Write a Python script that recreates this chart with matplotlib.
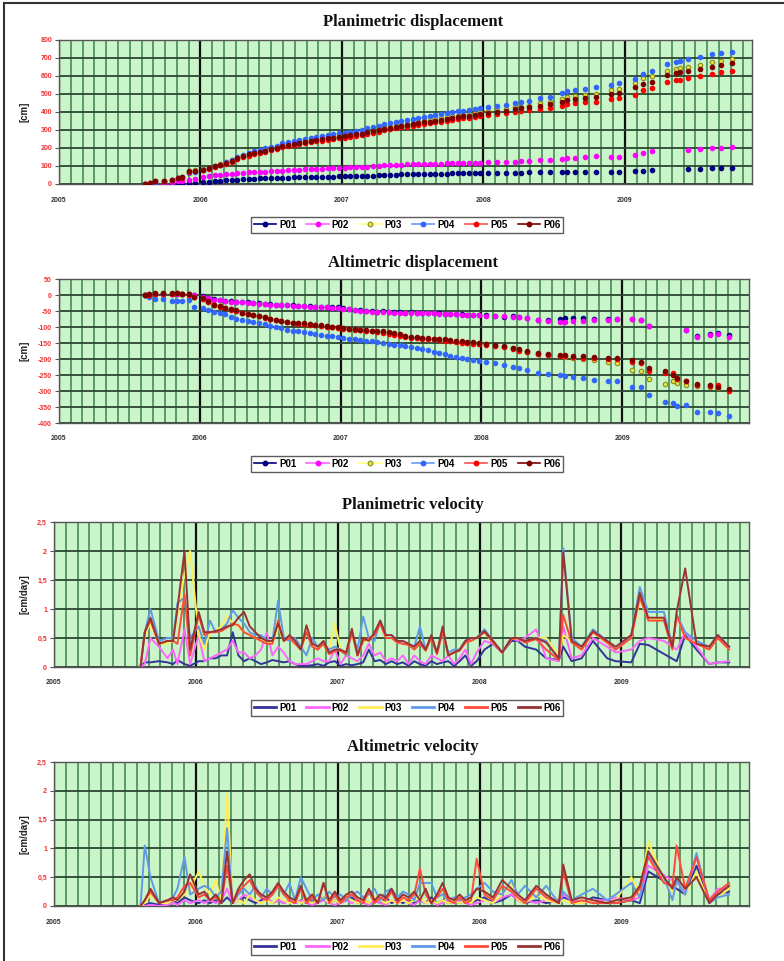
import numpy as np
import matplotlib
matplotlib.use('Agg')
import matplotlib.pyplot as plt
from matplotlib.lines import Line2D

nan = float('nan')

# ---------------- data ----------------
dates = [2005.61, 2005.64, 2005.68, 2005.74, 2005.80, 2005.84, 2005.87, 2005.92, 2005.96, 2006.02,
         2006.06, 2006.10, 2006.14, 2006.18, 2006.22, 2006.26, 2006.30, 2006.34, 2006.38, 2006.42,
         2006.46, 2006.50, 2006.54, 2006.58, 2006.62, 2006.66, 2006.70, 2006.74, 2006.78, 2006.82,
         2006.86, 2006.90, 2006.94, 2006.98, 2007.02, 2007.06, 2007.10, 2007.14, 2007.18, 2007.22,
         2007.26, 2007.30, 2007.34, 2007.38, 2007.42, 2007.46, 2007.50, 2007.54, 2007.58, 2007.62,
         2007.66, 2007.70, 2007.74, 2007.78, 2007.82, 2007.86, 2007.90, 2007.94, 2007.98, 2008.035,
         2008.095, 2008.16, 2008.225, 2008.27, 2008.32, 2008.40, 2008.47, 2008.56, 2008.59, 2008.65,
         2008.72, 2008.80, 2008.90, 2008.96, 2009.07, 2009.13, 2009.19, 2009.30, 2009.36, 2009.39,
         2009.45, 2009.53, 2009.62, 2009.68, 2009.76]

series_names = ['P01', 'P02', 'P03', 'P04', 'P05', 'P06']

# Planimetric displacement [cm]
pd_P01 = [0, 1, 2, 2, 3, 4, 4, 5, 6, 9,
          11, 14, 17, 20, 22, 24, 26, 28, 29, 31,
          32, 33, 34, 35, 36, 37, 37, 38, 39, 39,
          40, 40, 41, 42, 42, 43, 44, 45, 46, 47,
          48, 49, 50, 52, 53, 54, 55, 55, 56, 57,
          57, 58, 58, 59, 59, 60, 60, 60, 61, 61,
          62, 62, 63, 63, 64, 64, 65, 65, 66, 66,
          66, 67, 65, 66, 72, 74, 76, nan, nan, nan,
          83, 85, 87, 88, 89]
pd_P02 = [0, 2, 5, 6, 10, 14, 16, 24, 28, 40,
          45, 50, 52, 55, 57, 60, 62, 64, 65, 67,
          69, 70, 73, 75, 77, 79, 80, 81, 83, 84,
          86, 87, 88, 89, 90, 92, 93, 95, 97, 99,
          101, 103, 105, 107, 108, 109, 110, 111, 111, 112,
          113, 113, 114, 115, 116, 116, 117, 118, 119, 120,
          121, 122, 124, 126, 130, 134, 136, 138, 145, 147,
          150, 153, 150, 151, 163, 172, 181, nan, nan, nan,
          190, 194, 198, 200, 203]
pd_P03 = [0, 5, 15, 17, 24, 34, 38, 74, 76, 82,
          90, 100, 110, 121, 131, 145, 156, 167, 176, 184,
          190, 197, 204, 215, 221, 227, 233, 238, 244, 249,
          253, 258, 262, 267, 271, 275, 281, 286, 295, 300,
          306, 314, 319, 325, 330, 335, 340, 346, 351, 356,
          361, 366, 371, 376, 380, 384, 389, 394, 399, 406,
          411, 417, 425, 430, 436, 448, 456, 472, 482, 487,
          494, 502, 520, 530, 560, 590, 600, 630, 640, 645,
          652, 662, 676, 684, 695]
pd_P04 = [0, 5, 12, 18, 25, 33, 40, 62, 68, 78,
          88, 98, 108, 120, 132, 148, 160, 172, 182, 190,
          198, 205, 212, 225, 232, 238, 245, 250, 256, 262,
          266, 272, 276, 281, 285, 290, 296, 302, 312, 318,
          324, 332, 338, 344, 350, 355, 360, 366, 372, 378,
          383, 388, 394, 400, 404, 408, 413, 418, 422, 428,
          434, 440, 448, 454, 460, 476, 486, 505, 516, 520,
          530, 540, 552, 562, 585, 612, 630, 665, 680, 684,
          693, 704, 720, 730, 736]
pd_P05 = [0, 4, 15, 16, 22, 33, 35, 68, 70, 76,
          84, 94, 103, 113, 123, 137, 148, 158, 166, 174,
          180, 187, 193, 203, 209, 215, 221, 226, 232, 237,
          241, 246, 250, 254, 258, 262, 267, 272, 280, 285,
          291, 298, 303, 309, 314, 318, 323, 328, 333, 338,
          342, 347, 352, 357, 361, 365, 369, 373, 377, 384,
          388, 393, 400, 405, 410, 418, 424, 436, 445, 449,
          453, 458, 470, 477, 495, 520, 535, 565, 575, 578,
          588, 598, 612, 620, 630]
pd_P06 = [0, 5, 16, 18, 24, 35, 38, 72, 74, 80,
          88, 98, 108, 118, 128, 142, 153, 164, 172, 180,
          186, 193, 200, 210, 216, 222, 228, 233, 239, 244,
          248, 253, 257, 262, 266, 270, 275, 280, 288, 293,
          299, 306, 311, 317, 322, 327, 332, 337, 342, 347,
          352, 357, 362, 367, 371, 375, 380, 385, 390, 397,
          402, 408, 415, 420, 426, 436, 444, 458, 468, 472,
          478, 485, 498, 505, 538, 555, 569, 606, 615, 620,
          630, 640, 652, 660, 671]

# Altimetric displacement [cm]
ad_P01 = [0, 1, 3, 4, 3, 4, 3, 2, 0, -4,
          -9, -14, -16, -18, -20, -21, -22, -23, -24, -26,
          -27, -29, -30, -30, -31, -32, -33, -34, -35, -36,
          -37, -38, -39, -36, -42, -44, -46, -48, -50, -51,
          -52, -51, -53, -54, -54, -55, -54, -55, -55, -56,
          -56, -57, -58, -58, -59, -60, -61, -62, -63, -64,
          -65, -70, -67, -69, -71, -77, -79, -75, -73, -72,
          -72, -76, -76, -75, -75, -77, -96, nan, nan, nan,
          -108, -128, -123, -120, -125]
ad_P02 = [0, 1, 3, 4, 3, 4, 3, 2, 0, -5,
          -10, -15, -17, -19, -21, -22, -23, -24, -25, -27,
          -28, -30, -31, -31, -32, -33, -34, -35, -36, -37,
          -38, -39, -40, -41, -43, -45, -47, -49, -51, -52,
          -53, -52, -54, -55, -55, -56, -55, -56, -56, -57,
          -57, -58, -59, -59, -60, -61, -62, -63, -64, -65,
          -66, -67, -68, -70, -72, -78, -80, -83, -83, -82,
          -80, -78, -77, -76, -76, -78, -97, nan, nan, nan,
          -109, -132, -125, -122, -130]
ad_P03 = [0, 2, 4, 5, 4, 6, 3, 1, -5, -11,
          -21, -30, -35, -41, -45, -49, -55, -59, -62, -66,
          -70, -74, -78, -82, -85, -87, -89, -90, -92, -94,
          -96, -98, -100, -102, -104, -106, -107, -109, -111, -113,
          -115, -116, -119, -122, -125, -128, -131, -133, -135, -137,
          -138, -139, -141, -143, -145, -147, -149, -150, -152, -154,
          -158, -162, -167, -172, -177, -184, -187, -190, -193, -196,
          -199, -204, -210, -213, -234, -236, -263, -278, -270, -275,
          -280, -285, -288, -290, -298]
ad_P04 = [0, -5, -13, -14, -18, -20, -18, -15, -36, -41,
          -46, -52, -56, -60, -70, -76, -78, -80, -83, -88,
          -92, -96, -100, -104, -108, -111, -114, -117, -119, -122,
          -125, -127, -129, -130, -133, -136, -138, -141, -143, -145,
          -147, -150, -153, -155, -157, -159, -161, -165, -169, -173,
          -177, -181, -185, -190, -193, -196, -199, -202, -205, -210,
          -214, -220, -224, -228, -234, -244, -248, -251, -253, -255,
          -258, -265, -268, -270, -289, -286, -312, -335, -337, -348,
          -345, -367, -367, -368, -379]
ad_P05 = [0, 1, 3, 4, 3, 5, 2, 0, -6, -12,
          -22, -30, -36, -42, -46, -50, -56, -60, -63, -67,
          -71, -75, -79, -82, -85, -88, -90, -91, -93, -95,
          -97, -99, -101, -103, -105, -107, -108, -110, -112, -114,
          -116, -118, -121, -124, -127, -130, -133, -135, -137, -138,
          -139, -141, -143, -145, -147, -149, -150, -152, -154, -156,
          -160, -164, -169, -174, -178, -185, -188, -190, -192, -194,
          -196, -198, -200, -201, -208, -214, -236, -244, -244, -262,
          -268, -282, -284, -282, -300]
ad_P06 = [0, 2, 5, 6, 5, 7, 4, 2, -5, -10,
          -20, -31, -35, -40, -45, -48, -55, -58, -62, -65,
          -70, -74, -77, -81, -84, -86, -88, -89, -90, -93,
          -95, -97, -99, -101, -103, -105, -106, -108, -110, -112,
          -113, -114, -117, -120, -123, -127, -130, -132, -134, -135,
          -136, -137, -139, -141, -143, -145, -147, -148, -150, -152,
          -156, -160, -165, -170, -175, -182, -184, -186, -188, -190,
          -192, -194, -196, -197, -202, -208, -228, -239, -249, -260,
          -270, -277, -280, -286, -294]

# Planimetric velocity [cm/day]
pv_P01 = [0, 0.08, 0.08, 0.1, 0.08, 0.05, 0.12, 0.05, 0.02, 0.1,
          0.1, 0.15, 0.15, 0.2, 0.2, 0.6, 0.2, 0.1, 0.15, 0.1,
          0.05, 0.08, 0.12, 0.1, 0.08, 0.1, 0.05, 0.02, 0.02, 0.03,
          0.05, 0.02, 0.08, 0.1, 0.02, 0.05, 0.03, 0.05, 0.08, 0.3,
          0.1, 0.12, 0.05, 0.1, 0.05, 0.08, 0.02, 0.1, 0.05, 0.02,
          0.1, 0.05, 0.08, 0.1, 0.02, 0.1, 0.2, 0.02, 0.1, 0.3,
          0.4, 0.25, 0.45, 0.45, 0.35, 0.3, 0.15, 0.12, 0.35, 0.1,
          0.15, 0.45, 0.15, 0.1, 0.08, 0.4, 0.38, nan, nan, 0.1,
          0.55, 0.3, 0.05, 0.08, 0.08]
pv_P02 = [0, 0.05, 0.5, 0.35, 0.15, 0.3, 0.05, 0.65, 0.05, 0.55,
          0.1, 0.15, 0.2, 0.25, 0.3, 0.45, 0.25, 0.25, 0.15, 0.2,
          0.3, 0.6, 0.2, 0.35, 0.25, 0.1, 0.05, 0.05, 0.05, 0.1,
          0.15, 0.1, 0.1, 0.3, 0.05, 0.2, 0.15, 0.1, 0.2, 0.4,
          0.2, 0.25, 0.1, 0.15, 0.1, 0.2, 0.05, 0.2, 0.1, 0.05,
          0.2, 0.15, 0.1, 0.2, 0.05, 0.15, 0.3, 0.05, 0.25, 0.45,
          0.4, 0.25, 0.5, 0.45, 0.5, 0.65, 0.15, 0.1, 0.7, 0.15,
          0.2, 0.5, 0.35, 0.25, 0.3, 0.45, 0.5, 0.45, nan, 0.3,
          0.6, 0.35, 0.05, 0.08, 0.1]
pv_P03 = [0, 0.55, 0.75, 0.4, 0.4, 0.45, 0.9, 1.6, 2.0, 0.55,
          0.3, 0.6, 0.62, 0.7, 0.88, 0.75, 0.7, 0.6, 0.55, 0.5,
          0.45, 0.45, 0.4, 0.7, 0.45, 0.5, 0.4, 0.3, 0.6, 0.38,
          0.3, 0.4, 0.3, 0.75, 0.3, 0.25, 0.55, 0.2, 0.45, 0.45,
          0.55, 0.75, 0.5, 0.5, 0.42, 0.4, 0.38, 0.32, 0.42, 0.3,
          0.5, 0.25, 0.6, 0.2, 0.25, 0.28, 0.42, 0.45, 0.5, 0.6,
          0.42, 0.25, 0.48, 0.5, 0.45, 0.5, 0.5, 0.2, 0.55, 0.45,
          0.3, 0.6, 0.42, 0.3, 0.5, 1.15, 0.82, 0.82, 0.3, 0.9,
          0.5, 0.4, 0.3, 0.5, 0.3]
pv_P04 = [0, 0.6, 1.0, 0.45, 0.5, 0.5, 1.1, 1.2, 0.5, 0.7,
          0.4, 0.8, 0.6, 0.65, 0.75, 0.98, 0.85, 0.75, 0.6, 0.55,
          0.55, 0.45, 0.45, 1.15, 0.5, 0.45, 0.5, 0.35, 0.2, 0.5,
          0.35, 0.4, 0.3, 0.35, 0.3, 0.2, 0.6, 0.3, 0.87, 0.5,
          0.45, 0.8, 0.55, 0.55, 0.45, 0.4, 0.4, 0.35, 0.7, 0.3,
          0.5, 0.25, 0.6, 0.25, 0.3, 0.3, 0.45, 0.5, 0.5, 0.65,
          0.45, 0.25, 0.5, 0.5, 0.45, 0.5, 0.45, 0.12, 2.05, 0.5,
          0.35, 0.65, 0.45, 0.3, 0.55, 1.38, 0.95, 0.95, 0.35, 0.9,
          0.6, 0.45, 0.35, 0.55, 0.35]
pv_P05 = [0, 0.6, 0.8, 0.4, 0.45, 0.45, 0.4, 1.25, 0.2, 0.9,
          0.55, 0.6, 0.6, 0.62, 0.68, 0.75, 0.72, 0.6, 0.55, 0.5,
          0.45, 0.4, 0.4, 0.8, 0.45, 0.5, 0.4, 0.3, 0.6, 0.35,
          0.3, 0.4, 0.22, 0.28, 0.28, 0.22, 0.6, 0.2, 0.45, 0.5,
          0.55, 0.75, 0.5, 0.5, 0.42, 0.4, 0.38, 0.3, 0.4, 0.28,
          0.5, 0.22, 0.6, 0.2, 0.25, 0.28, 0.42, 0.45, 0.5, 0.6,
          0.42, 0.25, 0.48, 0.5, 0.42, 0.48, 0.3, 0.12, 0.9, 0.42,
          0.3, 0.6, 0.42, 0.3, 0.5, 1.2, 0.8, 0.8, 0.3, 0.9,
          0.5, 0.4, 0.3, 0.5, 0.3]
pv_P06 = [0, 0.6, 0.85, 0.4, 0.45, 0.45, 1.0, 2.0, 0.3, 0.95,
          0.6, 0.6, 0.62, 0.65, 0.7, 0.72, 0.85, 0.95, 0.7, 0.6,
          0.5, 0.45, 0.45, 0.75, 0.45, 0.55, 0.45, 0.3, 0.72, 0.4,
          0.35, 0.45, 0.25, 0.3, 0.3, 0.25, 0.66, 0.2, 0.5, 0.45,
          0.6, 0.8, 0.55, 0.55, 0.45, 0.45, 0.4, 0.35, 0.45, 0.3,
          0.55, 0.25, 0.7, 0.2, 0.25, 0.3, 0.45, 0.5, 0.5, 0.62,
          0.45, 0.25, 0.5, 0.5, 0.45, 0.5, 0.42, 0.15, 1.98, 0.45,
          0.35, 0.62, 0.45, 0.35, 0.55, 1.28, 0.85, 0.85, 0.35, 0.95,
          1.7, 0.4, 0.35, 0.55, 0.35]

# Altimetric velocity [cm/day]
av_P01 = [0, 0.02, 0.05, 0.02, 0.05, 0.1, 0.05, 0.15, 0.1, 0.05,
          0.1, 0.05, 0.1, 0.05, 0.15, 0.05, 0.1, 0.15, 0.1, 0.05,
          0.1, 0.15, 0.05, 0.1, 0.05, 0.1, 0.05, 0.1, 0.05, 0.1,
          0.05, 0.15, 0.05, 0.1, 0.05, 0.1, 0.15, 0.05, 0.1, 0.05,
          0.1, 0.05, 0.15, 0.05, 0.1, 0.05, 0.1, 0.05, 0.1, 0.05,
          0.15, 0.05, 0.1, 0.05, 0.1, 0.05, 0.1, 0.05, 0.1, 0.15,
          0.05, 0.1, 0.2, 0.1, 0.05, 0.1, 0.05, 0.1, 0.15, 0.1,
          0.05, 0.15, 0.1, 0.05, 0.1, 0.05, 0.6, nan, nan, 0.3,
          0.2, 0.7, 0.05, 0.2, 0.25]
av_P02 = [0, 0.0, 0.02, 0.0, 0.02, 0.05, 0.02, 0.1, 0.05, 0.1,
          0.05, 0.1, 0.05, 0.1, 0.3, 0.05, 0.1, 0.2, 0.15, 0.1,
          0.05, 0.15, 0.05, 0.1, 0.05, 0.1, 0.05, 0.1, 0.05, 0.02,
          0.05, 0.1, 0.05, 0.02, 0.05, 0.1, 0.05, 0.1, 0.05, 0.02,
          0.1, 0.05, 0.02, 0.1, 0.05, 0.1, 0.05, 0.02, 0.1, 0.05,
          0.1, 0.02, 0.05, 0.1, 0.05, 0.1, 0.05, 0.02, 0.05, 0.1,
          0.05, 0.15, 0.2, 0.1, 0.1, 0.05, 0.1, 0.05, 0.2, 0.1,
          0.05, 0.1, 0.1, 0.15, 0.1, 0.15, 0.7, nan, nan, 0.4,
          0.25, 0.85, 0.1, 0.3, 0.3]
av_P03 = [0, 0.05, 0.2, 0.05, 0.05, 0.1, 0.1, 0.2, 0.3, 0.6,
          0.35, 0.2, 0.45, 0.1, 1.95, 0.05, 0.1, 0.05, 0.2, 0.1,
          0.05, 0.1, 0.05, 0.15, 0.1, 0.05, 0.1, 0.05, 0.1, 0.05,
          0.1, 0.15, 0.05, 0.1, 0.05, 0.15, 0.1, 0.05, 0.1, 0.05,
          0.15, 0.1, 0.05, 0.1, 0.05, 0.1, 0.05, 0.1, 0.15, 0.05,
          0.1, 0.05, 0.1, 0.05, 0.1, 0.05, 0.1, 0.05, 0.15, 0.1,
          0.05, 0.2, 0.4, 0.1, 0.05, 0.2, 0.1, 0.05, 0.1, 0.05,
          0.05, 0.1, 0.05, 0.1, 0.5, 0.2, 1.12, 0.45, 0.25, 0.45,
          0.2, 0.6, 0.05, 0.15, 0.3]
av_P04 = [0, 1.05, 0.5, 0.05, 0.1, 0.15, 0.3, 0.85, 0.2, 0.3,
          0.35, 0.3, 0.15, 0.25, 1.35, 0.05, 0.2, 0.3, 0.2, 0.35,
          0.15, 0.3, 0.2, 0.35, 0.2, 0.4, 0.1, 0.5, 0.3, 0.1,
          0.2, 0.1, 0.25, 0.15, 0.2, 0.1, 0.2, 0.25, 0.15, 0.2,
          0.3, 0.1, 0.25, 0.3, 0.15, 0.25, 0.2, 0.1, 0.4, 0.4,
          0.4, 0.15, 0.2, 0.1, 0.15, 0.1, 0.15, 0.2, 0.3, 0.4,
          0.25, 0.2, 0.45, 0.2, 0.35, 0.15, 0.35, 0.05, 0.25, 0.1,
          0.2, 0.3, 0.1, 0.2, 0.4, 0.15, 0.9, 0.5, 0.1, 0.45,
          0.2, 0.92, 0.05, 0.15, 0.2]
av_P05 = [0, 0.1, 0.25, 0.05, 0.1, 0.1, 0.15, 0.35, 0.4, 0.15,
          0.2, 0.1, 0.15, 0.05, 0.7, 0.05, 0.25, 0.35, 0.45, 0.25,
          0.15, 0.1, 0.2, 0.35, 0.2, 0.1, 0.05, 0.3, 0.05, 0.15,
          0.05, 0.4, 0.05, 0.2, 0.05, 0.15, 0.2, 0.1, 0.05, 0.25,
          0.05, 0.15, 0.1, 0.25, 0.05, 0.15, 0.1, 0.2, 0.65, 0.2,
          0.05, 0.15, 0.3, 0.1, 0.05, 0.15, 0.05, 0.1, 0.82, 0.2,
          0.1, 0.35, 0.25, 0.15, 0.05, 0.3, 0.15, 0.05, 0.6, 0.05,
          0.1, 0.05, 0.05, 0.05, 0.1, 0.3, 0.85, 0.4, 0.35, 1.05,
          0.3, 0.85, 0.1, 0.25, 0.4]
av_P06 = [0, 0.1, 0.3, 0.05, 0.1, 0.15, 0.1, 0.25, 0.55, 0.2,
          0.25, 0.1, 0.2, 0.05, 0.95, 0.05, 0.3, 0.45, 0.55, 0.3,
          0.2, 0.15, 0.25, 0.4, 0.25, 0.15, 0.1, 0.35, 0.1, 0.2,
          0.05, 0.4, 0.1, 0.25, 0.1, 0.2, 0.25, 0.15, 0.1, 0.3,
          0.1, 0.2, 0.15, 0.3, 0.1, 0.2, 0.15, 0.25, 0.1, 0.3,
          0.05, 0.2, 0.4, 0.15, 0.1, 0.2, 0.1, 0.15, 0.3, 0.25,
          0.15, 0.45, 0.3, 0.2, 0.1, 0.35, 0.2, 0.05, 0.72, 0.1,
          0.15, 0.1, 0.05, 0.1, 0.15, 0.35, 0.95, 0.5, 0.3, 0.5,
          0.3, 0.5, 0.05, 0.2, 0.35]

titles = ['Planimetric displacement', 'Altimetric displacement',
          'Planimetric velocity', 'Altimetric velocity']
ylabels = ['[cm]', '[cm]', '[cm/day]', '[cm/day]']
year_ticks = [2005, 2006, 2007, 2008, 2009]
year_labels = ['2005', '2006', '2007', '2008', '2009']
pd_yticks = [0, 100, 200, 300, 400, 500, 600, 700, 800]
ad_yticks = [-400, -350, -300, -250, -200, -150, -100, -50, 0, 50]
vel_yticks = [0, 0.5, 1, 1.5, 2, 2.5]
vel_yticklabels = ['0', '0,5', '1', '1,5', '2', '2,5']

# ---------------- styling ----------------
W, H = 784, 961
fig = plt.figure(figsize=(W / 100, H / 100), dpi=100)
fig.patch.set_facecolor('white')

def rect(l, t, r, b):
    return [l / W, 1 - b / H, (r - l) / W, (b - t) / H]

ax_rects = [rect(59, 40, 752, 184), rect(59, 279, 749, 423),
            rect(54, 522, 749, 667), rect(54, 762, 749, 906)]
title_y = [22, 263, 505, 747]
legend_top = [212, 451, 695, 934]

disp_colors = ['#000080', '#ff00ff', '#c8c820', '#3366ff', '#ff0000', '#800000']
disp_line_colors = ['#000080', '#ff66ff', '#ffff88', '#6699ff', '#ff5050', '#800000']
vel_colors = ['#333399', '#ff66ff', '#ffee55', '#5f9ae8', '#ff4a3a', '#993333']

TICKFONT = dict(family='Liberation Sans', weight='bold', size=5)
XMAX = 2009.9
month_ticks = [2005 + k / 12 for k in range(0, 60) if 2005 + k / 12 <= XMAX]

axes = [fig.add_axes(r) for r in ax_rects]
disp_data = [[pd_P01, pd_P02, pd_P03, pd_P04, pd_P05, pd_P06],
             [ad_P01, ad_P02, ad_P03, ad_P04, ad_P05, ad_P06]]
vel_data = [[pv_P01, pv_P02, pv_P03, pv_P04, pv_P05, pv_P06],
            [av_P01, av_P02, av_P03, av_P04, av_P05, av_P06]]
xd = np.array(dates)

for i, ax in enumerate(axes):
    ax.set_facecolor('#c9f5c9')
    ax.set_xlim(2005, XMAX)
    ax.set_xticks(year_ticks)
    ax.set_xticklabels(year_labels, **TICKFONT, color='#333333')
    ax.set_xticks(month_ticks, minor=True)
    ax.tick_params(axis='x', which='both', length=0, pad=9)
    ax.set_axisbelow(True)
    ax.xaxis.grid(True, which='minor', color='#3f7f50', lw=1.1)
    ax.xaxis.grid(True, which='major', color='#111111', lw=1.6)
    ax.yaxis.grid(True, which='major', color='#2a4630', lw=1.3)
    for s in ax.spines.values():
        s.set_color('#555555')
        s.set_linewidth(1.0)
    ax.tick_params(axis='y', length=3, width=0.8, color='#555555', pad=2)

    fig.text(413 / W, 1 - title_y[i] / H, titles[i], ha='center', va='center',
             family='Liberation Serif', weight='bold', size=12, color='#111111')
    r = ax_rects[i]
    fig.text(24 / W, r[1] + r[3] / 2, ylabels[i], rotation=90, ha='center', va='center',
             family='Liberation Sans', weight='bold', size=7, color='#222222')

    handles = []
    if i < 2:
        data = disp_data[i]
        if i == 0:
            ax.set_ylim(0, 800)
            ax.set_yticks(pd_yticks)
            ax.set_yticklabels([str(v) for v in pd_yticks], **TICKFONT, color='#ee3030')
        else:
            ax.set_ylim(-400, 50)
            ax.set_yticks(ad_yticks)
            ax.set_yticklabels([str(v) for v in ad_yticks], **TICKFONT, color='#ee3030')
        for k, name in enumerate(series_names):
            y = np.array(data[k], dtype=float)
            if name == 'P03':
                ax.plot(xd, y, ls='none', marker='o', ms=3.2, mfc='#e6e640',
                        mec='#8a8a20', mew=0.8, zorder=3)
                h = Line2D([], [], color=disp_line_colors[k], lw=1.2, marker='o', ms=3.4,
                           mfc='#e6e640', mec='#8a8a20', mew=0.8)
            else:
                ax.plot(xd, y, ls='none', marker='o', ms=3.0, mfc=disp_colors[k],
                        mec=disp_colors[k], zorder=3)
                h = Line2D([], [], color=disp_line_colors[k], lw=1.2, marker='o', ms=3.2,
                           mfc=disp_colors[k], mec=disp_colors[k])
            handles.append(h)
    else:
        data = vel_data[i - 2]
        ax.set_ylim(0, 2.5)
        ax.set_yticks(vel_yticks)
        ax.set_yticklabels(vel_yticklabels, **TICKFONT, color='#ee3030')
        for k, name in enumerate(series_names):
            y = np.array(data[k], dtype=float)
            m = np.isfinite(y)
            ax.plot(xd[m], y[m], color=vel_colors[k], lw=1.4, zorder=3,
                    solid_joinstyle='round')
            handles.append(Line2D([], [], color=vel_colors[k], lw=2.0))

    leg = ax.legend(handles, series_names, ncol=6, loc='upper center',
                    bbox_to_anchor=(407 / W, 1 - legend_top[i] / H),
                    bbox_transform=fig.transFigure, frameon=True, fancybox=False,
                    edgecolor='#333333', handlelength=2.3, handletextpad=0.3,
                    columnspacing=1.05, borderpad=0.3,
                    prop=dict(family='Liberation Sans', weight='bold', size=7))
    leg.get_frame().set_linewidth(1.0)

# page frame lines (left and top)
fig.add_artist(Line2D([4 / W, 4 / W], [0, 1 - 3 / H], transform=fig.transFigure,
                      color='#333333', lw=1.5))
fig.add_artist(Line2D([4 / W, 1], [1 - 3 / H, 1 - 3 / H], transform=fig.transFigure,
                      color='#333333', lw=1.5))

fig.savefig('out.png', dpi=100, facecolor='white')
